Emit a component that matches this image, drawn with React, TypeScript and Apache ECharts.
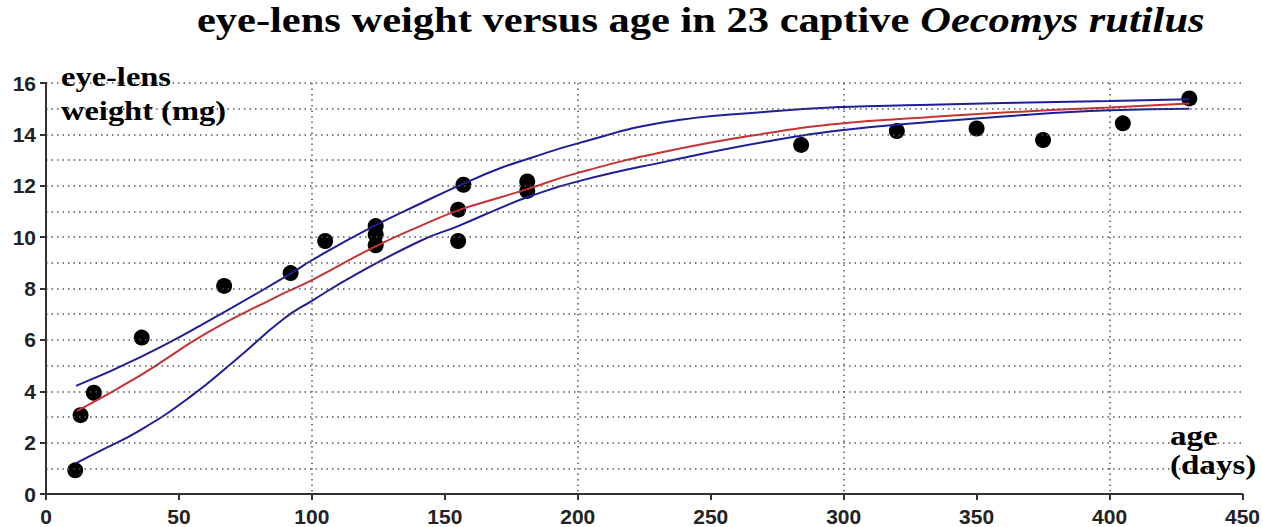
import React, { useEffect, useRef } from "react";
import * as echarts from "echarts";

// observed points (age in days, eye-lens weight in mg)
const ages = [11, 13, 18, 36, 67, 92, 105, 124, 124, 124, 155, 155, 157, 181, 181, 284, 320, 350, 375, 405, 430];
const weights = [0.92, 3.07, 3.94, 6.09, 8.1, 8.6, 9.85, 10.43, 10.1, 9.68, 11.07, 9.85, 12.04, 12.17, 11.8, 13.59, 14.13, 14.23, 13.78, 14.43, 15.4];

// fitted curve (red)
const midDays = [11.6, 35.5, 60.5, 85, 100, 123, 140.7, 155.8, 171, 181, 200, 233, 271, 300, 329, 360, 400, 430];
const midVals = [3.23, 4.62, 6.27, 7.59, 8.33, 9.59, 10.43, 11.07, 11.55, 11.87, 12.5, 13.33, 14.04, 14.43, 14.65, 14.85, 15.05, 15.2];

// upper band (blue)
const upDays = [11.3, 35.5, 60.5, 92, 100, 122, 140.7, 157, 171, 182, 200, 233, 271, 300, 329, 360, 400, 430];
const upVals = [4.21, 5.33, 6.7, 8.58, 9.1, 10.36, 11.3, 12.08, 12.69, 13.07, 13.65, 14.48, 14.88, 15.07, 15.14, 15.22, 15.3, 15.37];

// lower band (blue)
const lowDays = [11.3, 20, 35.5, 54.2, 70.4, 89.3, 100, 115.6, 140.7, 155, 171, 182, 200, 233, 271, 300, 329, 360, 400, 430];
const lowVals = [1.2, 1.66, 2.49, 3.78, 5.14, 6.81, 7.52, 8.49, 9.85, 10.43, 11.14, 11.59, 12.17, 12.94, 13.72, 14.17, 14.45, 14.7, 14.94, 15.0];

const xTicks = { min: 0, max: 450, interval: 50 };
const yTicks = { min: 0, max: 16, interval: 2 };

const zip = (a: number[], b: number[]) => a.map((v, i) => [v, b[i]]);

export default function App() {
  const ref = useRef<HTMLDivElement>(null);
  useEffect(() => {
    if (!ref.current) return;
    const chart = echarts.init(ref.current, null, { renderer: "svg" });
    const dotted = { color: "#555", width: 1.5, type: [1.5, 4] as any };
    const serif = "'Liberation Serif', 'Times New Roman', serif";
    const sans = "'Liberation Sans', Arial, sans-serif";
    chart.setOption({
      animation: false,
      backgroundColor: "#fff",
      grid: { left: 46, right: 20, top: 83, bottom: 31, containLabel: false },
      xAxis: [
        {
          type: "value",
          min: xTicks.min,
          max: xTicks.max,
          interval: xTicks.interval,
          axisLine: { show: true, lineStyle: { color: "#333", width: 2 } },
          axisTick: { show: true, length: 6, lineStyle: { color: "#333", width: 2 } },
          axisLabel: { margin: 12, fontFamily: sans, fontWeight: "bold", fontSize: 21, color: "#222" },
          splitLine: { show: false },
          z: 5,
        },
        {
          type: "value",
          position: "top",
          min: xTicks.min,
          max: xTicks.max,
          interval: 100,
          axisLine: { show: false },
          axisTick: { show: false },
          axisLabel: { show: false },
          splitLine: { show: true, showMinLine: false, showMaxLine: false, lineStyle: dotted },
        },
      ],
      yAxis: {
        type: "value",
        min: yTicks.min,
        max: yTicks.max,
        interval: yTicks.interval,
        axisLine: { show: true, lineStyle: { color: "#333", width: 2 } },
        axisTick: { show: true, length: 6, lineStyle: { color: "#333", width: 2 } },
        axisLabel: { margin: 10, fontFamily: sans, fontWeight: "bold", fontSize: 21, color: "#222" },
        splitLine: { show: true, showMinLine: false, lineStyle: dotted },
        minorTick: { show: false, splitNumber: 2 },
        minorSplitLine: { show: true, lineStyle: dotted },
        z: 5,
      },
      graphic: [
        {
          type: "text",
          x: 197,
          y: 2,
          scaleX: 1.18,
          style: {
            text: "{a|eye-lens weight versus age in 23 captive }{b|Oecomys rutilus}",
            align: "left",
            verticalAlign: "top",
            rich: {
              a: { fontFamily: serif, fontWeight: "bold", fontSize: 36, fill: "#000" },
              b: { fontFamily: serif, fontWeight: "bold", fontStyle: "italic", fontSize: 36, fill: "#000" },
            },
          },
          z: 10,
        },
        {
          type: "text",
          x: 61,
          y: 60,
          scaleX: 1.16,
          style: {
            text: "eye-lens\nweight (mg)",
            fontFamily: serif,
            fontWeight: "bold",
            fontSize: 28,
            lineHeight: 34,
            align: "left",
            verticalAlign: "top",
            fill: "#000",
          },
          z: 10,
        },
        {
          type: "text",
          x: 1170,
          y: 421,
          scaleX: 1.18,
          style: {
            text: "age\n(days)",
            fontFamily: serif,
            fontWeight: "bold",
            fontSize: 28,
            lineHeight: 29,
            align: "left",
            verticalAlign: "top",
            fill: "#000",
          },
          z: 10,
        },
      ],
      series: [
        {
          type: "scatter",
          data: zip(ages, weights),
          symbol: "circle",
          symbolSize: 16,
          itemStyle: { color: "#000", opacity: 1 },
          z: 2,
        },
        {
          type: "line",
          data: zip(lowDays, lowVals),
          smooth: 0.5,
          showSymbol: false,
          lineStyle: { color: "#1e1e96", width: 2 },
          z: 4,
        },
        {
          type: "line",
          data: zip(upDays, upVals),
          smooth: 0.5,
          showSymbol: false,
          lineStyle: { color: "#1e1e96", width: 2 },
          z: 4,
        },
        {
          type: "line",
          data: zip(midDays, midVals),
          smooth: 0.5,
          showSymbol: false,
          lineStyle: { color: "#c83232", width: 2 },
          z: 4,
        },
      ],
    });
    return () => chart.dispose();
  }, []);
  return (
    <div
      ref={ref}
      style={{ position: "fixed", left: 0, top: 0, width: 1263, height: 527, background: "#fff" }}
    />
  );
}
